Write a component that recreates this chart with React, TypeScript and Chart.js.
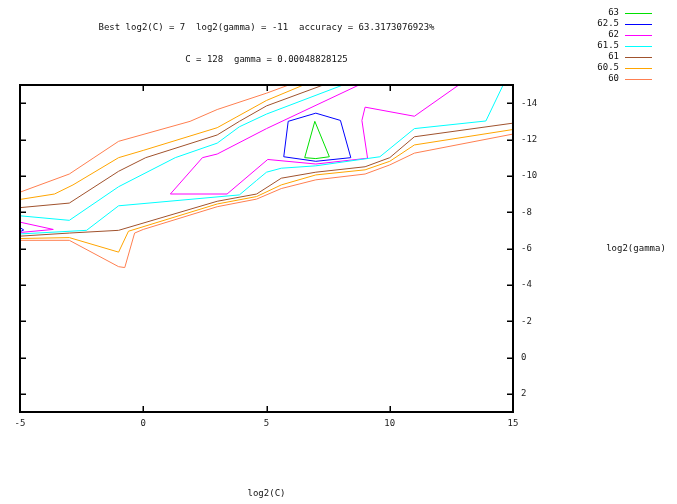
import React, { useEffect, useRef } from "react";
import { Chart, registerables } from "chart.js";
Chart.register(...registerables);

const titleLine1 = "Best log2(C) = 7  log2(gamma) = -11  accuracy = 63.3173076923%";
const titleLine2 = "C = 128  gamma = 0.00048828125";
const xAxisTitle = "log2(C)";
const yAxisTitle = "log2(gamma)";

const xTicks = [-5, 0, 5, 10, 15];
const yTicks = [-14, -12, -10, -8, -6, -4, -2, 0, 2];

const levels = ["63", "62.5", "62", "61.5", "61", "60.5", "60"];
const levelColors = ["#00e000", "#0000ff", "#ff00ff", "#00ffff", "#a0522d", "#ffa500", "#ff7f50"];

type P = [number, number];

// level 63
const c63a: P[] = [[6.96, -13.0], [7.55, -11.05], [7.0, -10.95], [6.55, -11.0], [6.96, -13.0]];
// level 62.5
const c625a: P[] = [[5.88, -13.0], [7.0, -13.45], [8.0, -13.05], [8.42, -11.0], [7.0, -10.8], [5.7, -11.05], [5.88, -13.0]];
const c625b: P[] = [[-5, -7.15], [-4.85, -7.02], [-5, -6.92]];
// level 62
const c62a: P[] = [[12.8, -15], [11, -13.28], [9, -13.78], [8.87, -13.05], [9.1, -10.97], [7, -10.65], [5.05, -10.9], [3.4, -9.0], [1.1, -9.0], [2.4, -11.0], [3, -11.2], [5, -12.6], [8.75, -15]];
const c62b: P[] = [[-5, -7.45], [-3.65, -7.05], [-5, -6.88]];
// level 61.5
const c615a: P[] = [[-5, -7.8], [-3, -7.55], [-1, -9.4], [1.3, -11], [3, -11.8], [3.9, -12.7], [5, -13.4], [8.1, -15]];
const c615b: P[] = [[-5, -6.8], [-2.3, -7.0], [-1, -8.35], [3.9, -8.95], [4.6, -9.75], [5, -10.2], [5.6, -10.42], [7, -10.55], [9.6, -11.05], [11, -12.6], [13.9, -13.02], [14.6, -15]];
// level 61
const c61a: P[] = [[-5, -8.25], [-3, -8.5], [-1, -10.25], [0.1, -11], [3, -12.25], [3.9, -13], [5, -13.85], [7.3, -15]];
const c61b: P[] = [[-5, -6.68], [-3, -6.85], [-1, -7.0], [3, -8.6], [4.6, -9.0], [5.6, -9.87], [7, -10.2], [9, -10.5], [10, -11.0], [11, -12.15], [15, -12.9]];
// level 60.5
const c605a: P[] = [[-5, -8.7], [-3.6, -9.0], [-2.85, -9.5], [-1, -11], [0, -11.4], [3, -12.65], [3.8, -13.25], [5, -14.15], [6.5, -15]];
const c605b: P[] = [[-5, -6.55], [-3, -6.6], [-1, -5.8], [-0.6, -6.95], [3, -8.45], [4.6, -8.86], [5.6, -9.5], [7, -10.05], [9, -10.33], [10, -10.8], [11, -11.7], [15, -12.55]];
// level 60
const c60a: P[] = [[-5, -9.1], [-3, -10.1], [-2, -11], [-1, -11.9], [1.9, -13], [3, -13.65], [5, -14.55], [5.9, -15]];
const c60b: P[] = [[-5, -6.45], [-3, -6.45], [-1, -5.0], [-0.75, -4.95], [-0.35, -6.85], [0, -7.05], [3, -8.3], [4.6, -8.72], [5.6, -9.3], [7, -9.78], [9, -10.1], [10, -10.6], [11, -11.25], [15, -12.3]];

const segments: { level: number; pts: P[] }[] = [
  { level: 6, pts: c60a }, { level: 6, pts: c60b },
  { level: 5, pts: c605a }, { level: 5, pts: c605b },
  { level: 4, pts: c61a }, { level: 4, pts: c61b },
  { level: 3, pts: c615a }, { level: 3, pts: c615b },
  { level: 2, pts: c62a }, { level: 2, pts: c62b },
  { level: 1, pts: c625a }, { level: 1, pts: c625b },
  { level: 0, pts: c63a },
];

const FONT = "'DejaVu Sans Mono', monospace";

const decor = {
  id: "decor",
  afterDraw(chart: any) {
    const ctx = chart.ctx as CanvasRenderingContext2D;
    const { left, right, top, bottom } = chart.chartArea;
    const xs = chart.scales.x;
    const ys = chart.scales.y;
    ctx.save();
    ctx.strokeStyle = "#000";
    ctx.lineWidth = 2;
    ctx.strokeRect(left, top, right - left, bottom - top);
    ctx.lineWidth = 1.5;
    ctx.beginPath();
    xTicks.forEach((v) => {
      const px = Math.round(xs.getPixelForValue(v)) + 0.25;
      ctx.moveTo(px, bottom); ctx.lineTo(px, bottom - 6);
      ctx.moveTo(px, top); ctx.lineTo(px, top + 6);
    });
    yTicks.forEach((v) => {
      const py = Math.round(ys.getPixelForValue(v)) + 0.25;
      ctx.moveTo(left, py); ctx.lineTo(left + 6, py);
      ctx.moveTo(right, py); ctx.lineTo(right - 6, py);
    });
    ctx.stroke();
    ctx.fillStyle = "#111";
    ctx.font = `9px ${FONT}`;
    ctx.textBaseline = "middle";
    ctx.textAlign = "center";
    const cx = (left + right) / 2;
    ctx.fillText(titleLine1, cx, 28);
    ctx.fillText(titleLine2, cx, 60);
    ctx.fillText(xAxisTitle, cx, 494);
    ctx.fillText(yAxisTitle, 636, 249);
    levels.forEach((lab, i) => {
      const y = 13 + i * 11;
      ctx.textAlign = "right";
      ctx.fillStyle = "#111";
      ctx.fillText(lab, 619, y);
      ctx.strokeStyle = levelColors[i];
      ctx.lineWidth = 1;
      ctx.beginPath();
      ctx.moveTo(625, y + 0.5);
      ctx.lineTo(652, y + 0.5);
      ctx.stroke();
    });
    ctx.restore();
  },
};

export default function App() {
  const ref = useRef<HTMLCanvasElement | null>(null);
  useEffect(() => {
    if (!ref.current) return;
    const chart = new Chart(ref.current, {
      type: "scatter",
      data: {
        datasets: segments.map((s) => ({
          label: levels[s.level],
          data: s.pts.map(([x, y]) => ({ x, y })),
          showLine: true,
          borderColor: levelColors[s.level],
          backgroundColor: levelColors[s.level],
          borderWidth: 1,
          pointRadius: 0,
          pointHoverRadius: 0,
          fill: false,
          tension: 0,
        })),
      },
      options: {
        responsive: false,
        animation: false,
        devicePixelRatio: 1,
        events: [],
        layout: { padding: { left: 20, top: 85, right: 0, bottom: 0 } },
        plugins: {
          legend: { display: false },
          title: { display: false },
          tooltip: { enabled: false },
        },
        scales: {
          x: {
            type: "linear",
            position: "bottom",
            min: -5,
            max: 15,
            afterBuildTicks: (s: any) => { s.ticks = xTicks.map((v) => ({ value: v })); },
            afterFit: (s: any) => { s.height = 92; },
            grid: { display: false, drawTicks: false },
            border: { display: false },
            ticks: { color: "#222", font: { family: FONT, size: 9 }, padding: 6, maxRotation: 0, autoSkip: false },
          },
          y: {
            type: "linear",
            position: "right",
            reverse: true,
            min: -15,
            max: 3,
            afterBuildTicks: (s: any) => { s.ticks = yTicks.map((v) => ({ value: v })); },
            afterFit: (s: any) => { s.width = 164; },
            grid: { display: false, drawTicks: false },
            border: { display: false },
            ticks: { color: "#222", font: { family: FONT, size: 9 }, padding: 8, autoSkip: false },
          },
        },
      },
      plugins: [decor],
    } as any);
    return () => chart.destroy();
  }, []);
  return (
    <div style={{ position: "absolute", left: 0, top: 0, width: 677, height: 504, background: "#fff" }}>
      <canvas ref={ref} width={677} height={504} style={{ display: "block" }} />
    </div>
  );
}
